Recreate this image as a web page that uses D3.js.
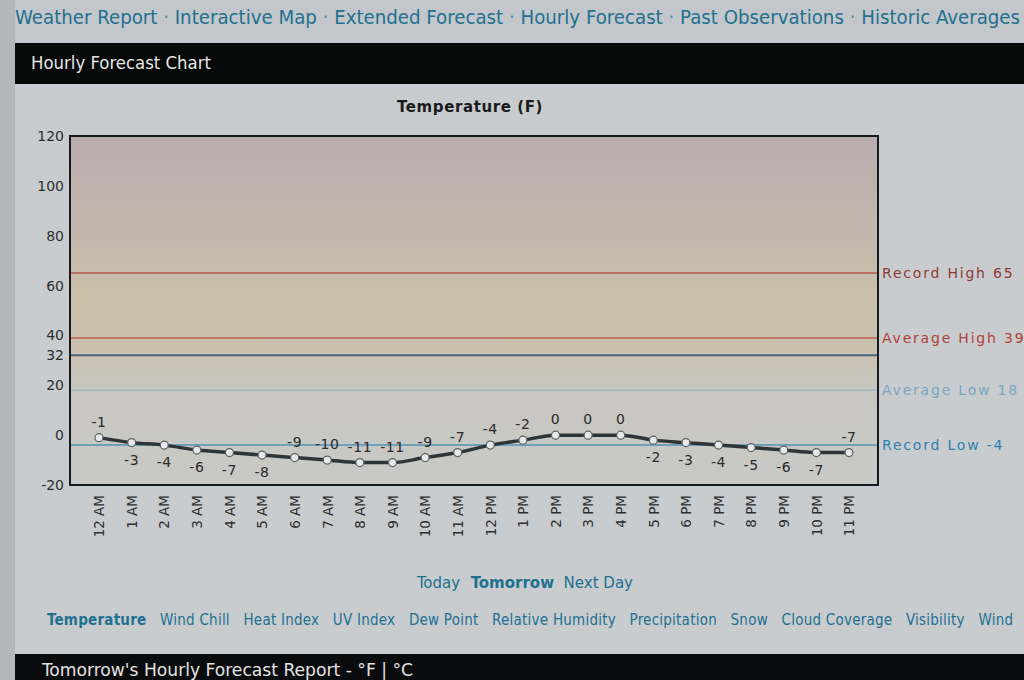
<!DOCTYPE html>
<html><head><meta charset="utf-8">
<script src="https://cdn.jsdelivr.net/npm/d3@7"></script>
<style>
html,body{margin:0;padding:0;background:#c3c7cb;overflow:hidden}
svg{display:block}
</style></head>
<body><svg id="c" width="1024" height="680"></svg>
<script>
const hours = ["12 AM","1 AM","2 AM","3 AM","4 AM","5 AM","6 AM","7 AM","8 AM","9 AM","10 AM","11 AM",
  "12 PM","1 PM","2 PM","3 PM","4 PM","5 PM","6 PM","7 PM","8 PM","9 PM","10 PM","11 PM"];
const temps = [-1,-3,-4,-6,-7,-8,-9,-10,-11,-11,-9,-7,-4,-2,0,0,0,-2,-3,-4,-5,-6,-7,-7];
const labelBelow = [false,true,true,true,true,true,false,false,false,false,false,false,
  false,false,false,false,false,true,true,true,true,true,true,false];
const yTicks = [120,100,80,60,40,32,20,0,-20];
const refNames = ["Record High","Average High","Average Low","Record Low"];
const refValues = [65,39,18,-4];
const navLinks = ["Weather Report","Interactive Map","Extended Forecast","Hourly Forecast","Past Observations","Historic Averages"];
const dayLinks = ["Today","Tomorrow","Next Day"];
const chartLinks = ["Temperature","Wind Chill","Heat Index","UV Index","Dew Point","Relative Humidity","Precipitation","Snow","Cloud Coverage","Visibility","Wind"];

const svg = d3.select("#c");
const W = 1024, H = 680;
const linkColor = "#22708f";
const narrow = "'DejaVu Sans Condensed','Liberation Sans Narrow',Arial,sans-serif";
const verdana = "'DejaVu Sans',Verdana,sans-serif";

// page background
svg.append("rect").attr("width",W).attr("height",H).attr("fill","#c3c7cb");
svg.append("rect").attr("x",0).attr("y",0).attr("width",15).attr("height",H).attr("fill","#b4b7b9");
svg.append("rect").attr("x",15).attr("y",84).attr("width",W-15).attr("height",570).attr("fill","#c8cccf");

// nav
const nav = svg.append("text").attr("x",15).attr("y",24).attr("font-family",narrow)
  .attr("font-size",19).attr("fill",linkColor).attr("textLength",1005).attr("lengthAdjust","spacingAndGlyphs");
navLinks.forEach((t,i)=>{
  if(i>0) nav.append("tspan").text(" · ").attr("fill","#5a8aa0");
  nav.append("tspan").text(t);
});

// header bar
svg.append("rect").attr("x",15).attr("y",43).attr("width",W-15).attr("height",41).attr("fill","#070808");
svg.append("text").attr("x",31).attr("y",69).attr("font-family",narrow).attr("font-size",18)
  .attr("fill","#e6e6e6").attr("textLength",180).attr("lengthAdjust","spacingAndGlyphs").text("Hourly Forecast Chart");

// chart
const m = {l:70, r:878, t:136, b:485};
const x = d3.scalePoint().domain(hours).range([m.l,m.r]).padding(0.89);
const y = d3.scaleLinear().domain([-20,120]).range([m.b,m.t]);

const defs = svg.append("defs");
const g = defs.append("linearGradient").attr("id","bg").attr("x1",0).attr("y1",0).attr("x2",0).attr("y2",1);
[[0,"#b9adae"],[0.25,"#c2b6ae"],[0.45,"#cbbfaa"],[0.6,"#cbc1ae"],[0.72,"#c8c6c0"],[1,"#c8c9c7"]]
  .forEach(([o,c])=>g.append("stop").attr("offset",o).attr("stop-color",c));
svg.append("rect").attr("x",m.l).attr("y",m.t).attr("width",m.r-m.l).attr("height",m.b-m.t).attr("fill","url(#bg)");

svg.append("text").attr("x",470).attr("y",112).attr("text-anchor","middle").attr("font-family",verdana)
  .attr("font-weight","bold").attr("font-size",15).attr("letter-spacing",0.6).attr("fill","#1a1a1a").text("Temperature (F)");

// reference lines
const refColors = ["#b8584a","#c0614e","#8fb4c8","#4f94b8"];
const refLabelColors = ["#8e3a34","#b2403a","#7aa6c0","#2f80b0"];
refValues.forEach((v,i)=>{
  svg.append("line").attr("x1",m.l).attr("x2",m.r).attr("y1",y(v)).attr("y2",y(v))
    .attr("stroke",refColors[i]).attr("stroke-width",i===2?1:1.5);
  svg.append("text").attr("x",m.r+4).attr("y",y(v)+5).attr("font-family",verdana).attr("font-size",14)
    .attr("letter-spacing",1.8).attr("fill",refLabelColors[i]).text(refNames[i]+" "+v);
});
// freezing line
svg.append("line").attr("x1",m.l).attr("x2",m.r).attr("y1",y(32)).attr("y2",y(32))
  .attr("stroke","#4a6478").attr("stroke-width",2);

// y axis labels
const ya = svg.append("g").attr("transform",`translate(${m.l},0)`)
  .call(d3.axisLeft(y).tickValues(yTicks).tickSize(0).tickPadding(6).tickFormat(d=>String(d)));
ya.select(".domain").remove();
ya.selectAll("text").attr("font-family",verdana).attr("font-size",14).attr("fill","#2e2e2e");

// x axis labels
const xa = svg.append("g").attr("transform",`translate(0,${m.b})`)
  .call(d3.axisBottom(x).tickSize(0).tickPadding(0));
xa.select(".domain").remove();
xa.selectAll("text").attr("font-family",verdana).attr("font-size",13.5).attr("fill","#2e2e2e")
  .attr("transform","rotate(-90)").attr("text-anchor","end").attr("dy","0.35em").attr("x",-10).attr("y",0);

// frame
svg.append("rect").attr("x",m.l).attr("y",m.t).attr("width",m.r-m.l).attr("height",m.b-m.t)
  .attr("fill","none").attr("stroke","#161a1e").attr("stroke-width",2);

// line
const line = d3.line().x((d,i)=>x(hours[i])).y(d=>y(d)).curve(d3.curveMonotoneX);
svg.append("path").datum(temps).attr("d",line).attr("fill","none").attr("stroke","#2f3436").attr("stroke-width",3.5);
svg.selectAll("circle.pt").data(temps).join("circle").attr("class","pt")
  .attr("cx",(d,i)=>x(hours[i])).attr("cy",d=>y(d)).attr("r",4)
  .attr("fill","#e8eaea").attr("stroke","#5a6064").attr("stroke-width",1.2);
svg.selectAll("text.val").data(temps).join("text").attr("class","val")
  .attr("x",(d,i)=>x(hours[i])).attr("y",(d,i)=>y(d)+(labelBelow[i]?22:-11))
  .attr("text-anchor","middle").attr("font-family",verdana).attr("font-size",14).attr("letter-spacing",0.6)
  .attr("fill","#2a2a2a").text(d=>d);

// day links
const dl = svg.append("text").attr("x",417).attr("y",588)
  .attr("font-family",narrow).attr("font-size",15).attr("fill",linkColor)
  .attr("textLength",216).attr("lengthAdjust","spacingAndGlyphs").attr("xml:space","preserve");
dayLinks.forEach((t,i)=>{
  dl.append("tspan").text((i?"  ":"")+t).attr("font-weight",i===1?"bold":"normal");
});

// chart links
const cl = svg.append("text").attr("x",47).attr("y",625).attr("font-family",narrow).attr("font-size",15)
  .attr("fill",linkColor).attr("xml:space","preserve").attr("textLength",966).attr("lengthAdjust","spacing");
chartLinks.forEach((t,i)=>{
  cl.append("tspan").text((i?"   ":"")+t).attr("font-weight",i===0?"bold":"normal");
});

// bottom bar
svg.append("rect").attr("x",15).attr("y",654).attr("width",W-15).attr("height",30).attr("fill","#0a0b0c");
svg.append("text").attr("x",42).attr("y",676).attr("font-family",narrow).attr("font-size",18)
  .attr("fill","#e2e2e2").attr("textLength",371).attr("lengthAdjust","spacingAndGlyphs")
  .text("Tomorrow's Hourly Forecast Report -  °F | °C");
</script></body></html>
